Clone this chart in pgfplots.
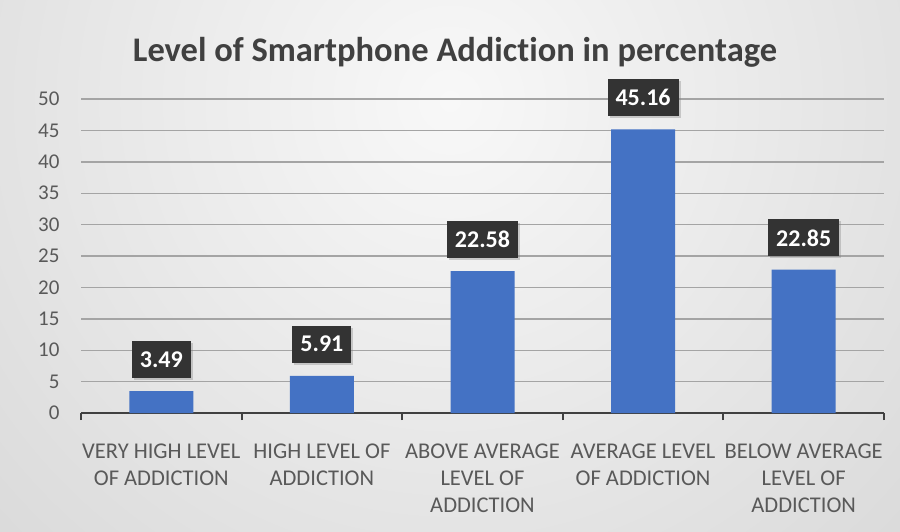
\documentclass[border=0pt]{standalone}
\usepackage{pgfplots}
\pgfplotsset{compat=1.18}
\usepackage{fontspec}
\setmainfont{Carlito}[Ligatures=NoCommon]
\usetikzlibrary{shadows}
\definecolor{barblue}{HTML}{4472C4}
\definecolor{txtgray}{HTML}{595959}
\definecolor{titlegray}{HTML}{404040}
\definecolor{labelbg}{HTML}{333333}
\definecolor{gridgray}{HTML}{A4A4A4}
\definecolor{axisdark}{HTML}{404040}
\definecolor{bgin}{HTML}{F8F8F8}
\definecolor{bgout}{HTML}{C2C2C2}
\begin{document}
\begin{tikzpicture}
\begin{scope}
\clip (0pt,0pt) rectangle (900pt,531pt);
\shade[inner color=bgin, outer color=bgout] (450pt,430pt) circle (1150pt);
\end{scope}
\node[font=\bfseries\fontsize{34.5}{34.5}\selectfont, text=titlegray, anchor=base] at (455pt,469pt) {Level of Smartphone Addiction in percentage};
\begin{axis}[
  at={(81pt,118pt)}, anchor=south west,
  scale only axis, width=803pt, height=314pt,
  xmin=-0.5, xmax=4.5, ymin=0, ymax=50,
  clip=false,
  axis line style={draw=none},
  ytick={0,5,...,50},
  xtick={0,1,2,3,4},
  xticklabels={{VERY HIGH LEVEL\\OF ADDICTION},{HIGH LEVEL OF\\ADDICTION},{ABOVE AVERAGE\\LEVEL OF\\ADDICTION},{AVERAGE LEVEL\\OF ADDICTION},{BELOW AVERAGE\\LEVEL OF\\ADDICTION}},
  minor xtick={-0.5,0.5,1.5,2.5,3.5,4.5},
  xtick pos=bottom, ytick pos=left,
  tick align=outside,
  major tick length=0pt,
  minor tick length=7pt,
  minor tick style={line width=2pt, color=axisdark},
  ymajorgrids,
  grid style={line width=1.4pt, color=gridgray},
  extra y ticks={0},
  extra y tick labels={},
  extra y tick style={grid style={line width=2.5pt, color=axisdark}},
  /pgf/number format/assume math mode=true,
  yticklabel style={font=\fontsize{21}{21}\selectfont, text=txtgray, xshift=-18pt},
  xticklabel style={font=\fontsize{22.5}{27}\selectfont, text=txtgray, align=center, yshift=-27pt},
  ybar, bar width=64pt,
  point meta=explicit symbolic,
  nodes near coords,
  every node near coord/.append style={fill=labelbg, text=white, font=\bfseries\fontsize{24}{24}\selectfont, inner xsep=8pt, minimum height=37pt, anchor=south, yshift=13pt, drop shadow={opacity=0.35, shadow xshift=2pt, shadow yshift=-2pt}},
]
\addplot[fill=barblue, draw=none] coordinates {(0,3.49) [3.49] (1,5.91) [5.91] (2,22.58) [22.58] (3,45.16) [45.16] (4,22.85) [22.85]};
\end{axis}
\end{tikzpicture}
\end{document}
